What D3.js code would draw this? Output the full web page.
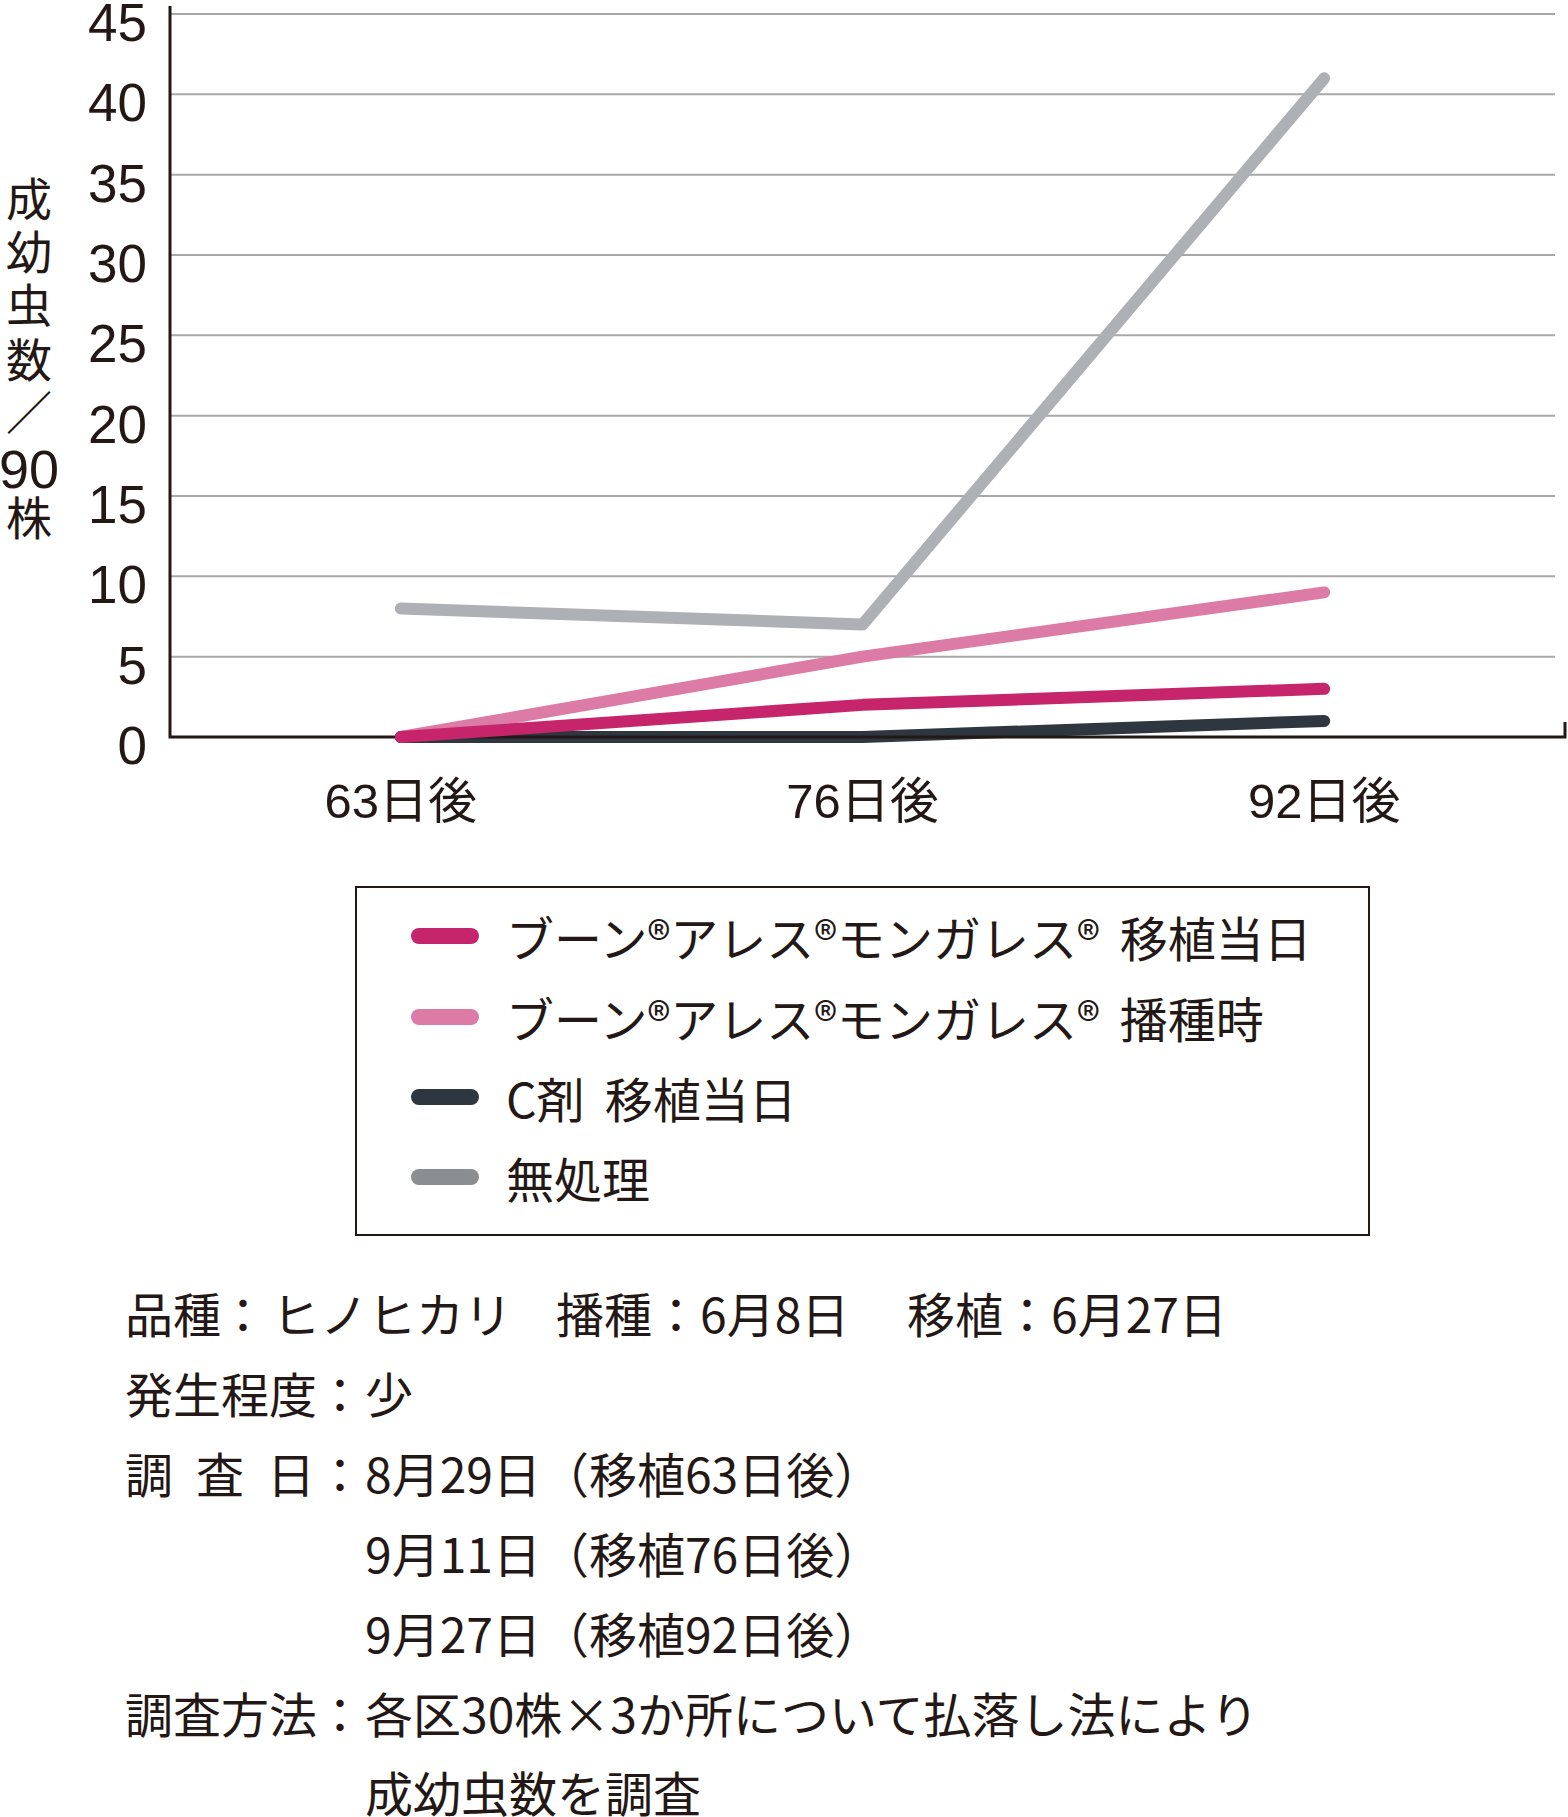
<!doctype html>
<html>
<head>
<meta charset="utf-8">
<style>
  body { margin: 0; background: #fff; }
  svg text { fill: #231815; }
</style>
<script src="https://d3js.org/d3.v7.min.js"></script>
</head>
<body>
<svg width="1568" height="1817"></svg>
<script>
// chart data
var days = ["63日後", "76日後", "92日後"];
var seriesNames = ["ブーン®アレス®モンガレス®", "ブーン®アレス®モンガレス®", "C剤", "無処理"];
var seriesTiming = ["移植当日", "播種時", "移植当日", ""];
var mongaTransplant = [0, 2, 3];
var mongaSowing = [0, 5, 9];
var cAgent = [0, 0, 1];
var untreated = [8, 7, 41];
var yTicks = [0, 5, 10, 15, 20, 25, 30, 35, 40, 45];
var yTitle = ["成", "幼", "虫", "数", "／", "90", "株"];

// notes under legend
var noteLabels = ["品種", "発生程度", "調　査　日", "", "", "調査方法", ""];
var noteValues = [
  ["ヒノヒカリ", "播種：6月8日", "移植：6月27日"],
  ["少"],
  ["8月29日（移植63日後）"],
  ["9月11日（移植76日後）"],
  ["9月27日（移植92日後）"],
  ["各区30株×3か所について払落し法により"],
  ["成幼虫数を調査"]
];

var FONT = "'Liberation Sans', 'Noto Sans CJK JP', sans-serif";
var svg = d3.select("svg").style("font-family", FONT);

var x = d3.scalePoint().domain(days).range([170, 1555]).padding(0.5);
var y = d3.scaleLinear().domain([0, 45]).range([737, 14]);

// grid
svg.append("g").selectAll("line")
  .data(yTicks.filter(d => d > 0)).enter()
  .append("line")
  .attr("x1", 170).attr("x2", 1555)
  .attr("y1", d => y(d)).attr("y2", d => y(d))
  .style("stroke", "#a8a8a8").style("stroke-width", 2);

// y tick labels
svg.append("g").selectAll("text")
  .data(yTicks).enter()
  .append("text")
  .attr("x", 147).attr("y", d => y(d) + 27)
  .attr("text-anchor", "end")
  .style("font-size", "53px")
  .text(d => d);

// y title, vertical
svg.append("g").selectAll("text")
  .data(yTitle).enter()
  .append("text")
  .attr("x", 29)
  .attr("y", (d, i) => [199, 252, 305, 360, 412, 471, 518][i] + 17)
  .attr("text-anchor", "middle")
  .style("font-size", d => d == "90" ? "54px" : "46px")
  .style("font-family", d => d == "90" ? FONT : "'Noto Sans CJK JP'")
  .text(d => d);

// x labels
svg.append("g").selectAll("text")
  .data(days).enter()
  .append("text")
  .attr("x", d => x(d)).attr("y", 818)
  .attr("text-anchor", "middle")
  .style("font-size", "49px")
  .text(d => d);

var line = d3.line()
  .x((d, i) => x(days[i]))
  .y(d => y(d));

function drawSeries(values, color) {
  svg.append("path")
    .datum(values)
    .attr("d", line)
    .style("fill", "none")
    .style("stroke", color)
    .style("stroke-width", 12)
    .style("stroke-linecap", "round")
    .style("stroke-linejoin", "round");
}

drawSeries(untreated, "#adb0b4");
drawSeries(mongaSowing, "#dc7ba6");
drawSeries(cAgent, "#2e3740");

// axes
svg.append("path")
  .attr("d", "M170,6 V737 H1565 V722")
  .style("fill", "none")
  .style("stroke", "#231815")
  .style("stroke-width", 3);

drawSeries(mongaTransplant, "#c6246b");

// legend
var legendColors = ["#c6246b", "#dc7ba6", "#2e3740", "#8b8e91"];
var legendRows = [936, 1017, 1097, 1177];
svg.append("rect")
  .attr("x", 356).attr("y", 887)
  .attr("width", 1013).attr("height", 348)
  .style("fill", "none").style("stroke", "#231815").style("stroke-width", 2);

var lg = svg.append("g").selectAll("g")
  .data(seriesNames).enter()
  .append("g")
  .attr("transform", (d, i) => `translate(0, ${legendRows[i]})`);

lg.append("line")
  .attr("x1", 419).attr("x2", 471)
  .style("stroke", (d, i) => legendColors[i])
  .style("stroke-width", 16)
  .style("stroke-linecap", "round");

lg.append("text")
  .attr("x", 506).attr("y", 21)
  .style("font-size", "48px")
  .style("font-family", "'Noto Sans CJK JP'")
  .text(d => d)
  .append("tspan")
  .attr("dx", 20)
  .text((d, i) => seriesTiming[i]);

// notes
var noteRows = [1315, 1395, 1475, 1555, 1635, 1715, 1794];
var notes = svg.append("g")
  .style("font-size", "48px")
  .style("font-family", "'Noto Sans CJK JP'");

noteLabels.forEach(function(lab, i) {
  if (lab) {
    var t = notes.append("text").attr("x", 125).attr("y", noteRows[i] + 18).text(lab);
    if (lab.length > 4) t.attr("textLength", 190).attr("lengthAdjust", "spacing");
    notes.append("text").attr("x", i == 0 ? 243 : 340).attr("y", noteRows[i] + 18)
      .attr("text-anchor", "middle").text("：");
  }
});

noteValues.forEach(function(vals, i) {
  var xs = i == 0 ? [272, 556, 907] : [365];
  vals.forEach(function(v, j) {
    notes.append("text").attr("x", xs[j]).attr("y", noteRows[i] + 18).text(v);
  });
});
</script>
</body>
</html>
